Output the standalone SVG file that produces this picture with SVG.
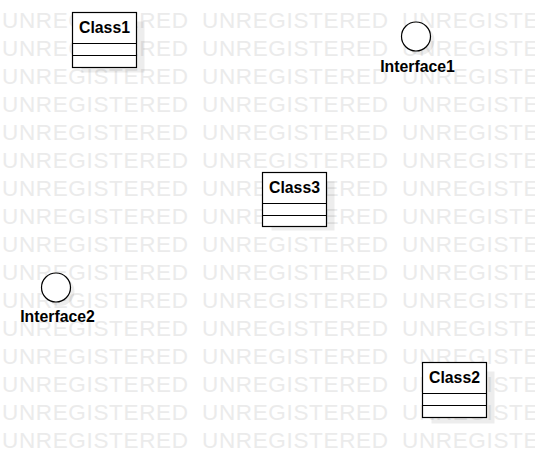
<svg xmlns="http://www.w3.org/2000/svg" width="535" height="467" viewBox="0 0 535 467">
<style>
.wm{font-family:"Liberation Sans",Arial,sans-serif;font-size:22.5px;fill:#ebebeb;}
.box{fill:#ffffff;stroke:#000000;stroke-width:1.2;}
.sep{stroke:#000000;stroke-width:1.2;fill:none;}
.shadow{fill:#000000;fill-opacity:0.07;}
.name{font-family:"Liberation Sans",Arial,sans-serif;font-size:15.8px;font-weight:bold;fill:#000000;text-anchor:middle;}
</style>
<rect x="0" y="0" width="535" height="467" fill="#ffffff"/>
<g id="watermark">
<text class="wm" x="2" y="28.3" textLength="186" lengthAdjust="spacing">UNREGISTERED</text><text class="wm" x="202" y="28.3" textLength="186" lengthAdjust="spacing">UNREGISTERED</text><text class="wm" x="402" y="28.3" textLength="186" lengthAdjust="spacing">UNREGISTERED</text>
<text class="wm" x="2" y="56.3" textLength="186" lengthAdjust="spacing">UNREGISTERED</text><text class="wm" x="202" y="56.3" textLength="186" lengthAdjust="spacing">UNREGISTERED</text><text class="wm" x="402" y="56.3" textLength="186" lengthAdjust="spacing">UNREGISTERED</text>
<text class="wm" x="2" y="84.3" textLength="186" lengthAdjust="spacing">UNREGISTERED</text><text class="wm" x="202" y="84.3" textLength="186" lengthAdjust="spacing">UNREGISTERED</text><text class="wm" x="402" y="84.3" textLength="186" lengthAdjust="spacing">UNREGISTERED</text>
<text class="wm" x="2" y="112.3" textLength="186" lengthAdjust="spacing">UNREGISTERED</text><text class="wm" x="202" y="112.3" textLength="186" lengthAdjust="spacing">UNREGISTERED</text><text class="wm" x="402" y="112.3" textLength="186" lengthAdjust="spacing">UNREGISTERED</text>
<text class="wm" x="2" y="140.3" textLength="186" lengthAdjust="spacing">UNREGISTERED</text><text class="wm" x="202" y="140.3" textLength="186" lengthAdjust="spacing">UNREGISTERED</text><text class="wm" x="402" y="140.3" textLength="186" lengthAdjust="spacing">UNREGISTERED</text>
<text class="wm" x="2" y="168.3" textLength="186" lengthAdjust="spacing">UNREGISTERED</text><text class="wm" x="202" y="168.3" textLength="186" lengthAdjust="spacing">UNREGISTERED</text><text class="wm" x="402" y="168.3" textLength="186" lengthAdjust="spacing">UNREGISTERED</text>
<text class="wm" x="2" y="196.3" textLength="186" lengthAdjust="spacing">UNREGISTERED</text><text class="wm" x="202" y="196.3" textLength="186" lengthAdjust="spacing">UNREGISTERED</text><text class="wm" x="402" y="196.3" textLength="186" lengthAdjust="spacing">UNREGISTERED</text>
<text class="wm" x="2" y="224.3" textLength="186" lengthAdjust="spacing">UNREGISTERED</text><text class="wm" x="202" y="224.3" textLength="186" lengthAdjust="spacing">UNREGISTERED</text><text class="wm" x="402" y="224.3" textLength="186" lengthAdjust="spacing">UNREGISTERED</text>
<text class="wm" x="2" y="252.3" textLength="186" lengthAdjust="spacing">UNREGISTERED</text><text class="wm" x="202" y="252.3" textLength="186" lengthAdjust="spacing">UNREGISTERED</text><text class="wm" x="402" y="252.3" textLength="186" lengthAdjust="spacing">UNREGISTERED</text>
<text class="wm" x="2" y="280.3" textLength="186" lengthAdjust="spacing">UNREGISTERED</text><text class="wm" x="202" y="280.3" textLength="186" lengthAdjust="spacing">UNREGISTERED</text><text class="wm" x="402" y="280.3" textLength="186" lengthAdjust="spacing">UNREGISTERED</text>
<text class="wm" x="2" y="308.3" textLength="186" lengthAdjust="spacing">UNREGISTERED</text><text class="wm" x="202" y="308.3" textLength="186" lengthAdjust="spacing">UNREGISTERED</text><text class="wm" x="402" y="308.3" textLength="186" lengthAdjust="spacing">UNREGISTERED</text>
<text class="wm" x="2" y="336.3" textLength="186" lengthAdjust="spacing">UNREGISTERED</text><text class="wm" x="202" y="336.3" textLength="186" lengthAdjust="spacing">UNREGISTERED</text><text class="wm" x="402" y="336.3" textLength="186" lengthAdjust="spacing">UNREGISTERED</text>
<text class="wm" x="2" y="364.3" textLength="186" lengthAdjust="spacing">UNREGISTERED</text><text class="wm" x="202" y="364.3" textLength="186" lengthAdjust="spacing">UNREGISTERED</text><text class="wm" x="402" y="364.3" textLength="186" lengthAdjust="spacing">UNREGISTERED</text>
<text class="wm" x="2" y="392.3" textLength="186" lengthAdjust="spacing">UNREGISTERED</text><text class="wm" x="202" y="392.3" textLength="186" lengthAdjust="spacing">UNREGISTERED</text><text class="wm" x="402" y="392.3" textLength="186" lengthAdjust="spacing">UNREGISTERED</text>
<text class="wm" x="2" y="420.3" textLength="186" lengthAdjust="spacing">UNREGISTERED</text><text class="wm" x="202" y="420.3" textLength="186" lengthAdjust="spacing">UNREGISTERED</text><text class="wm" x="402" y="420.3" textLength="186" lengthAdjust="spacing">UNREGISTERED</text>
<text class="wm" x="2" y="448.3" textLength="186" lengthAdjust="spacing">UNREGISTERED</text><text class="wm" x="202" y="448.3" textLength="186" lengthAdjust="spacing">UNREGISTERED</text><text class="wm" x="402" y="448.3" textLength="186" lengthAdjust="spacing">UNREGISTERED</text>
</g>
<g id="connectors"></g>
<g id="Class1">
<rect class="shadow" x="81.5" y="21.5" width="63" height="51"/>
<rect class="box" x="72.5" y="12.5" width="64" height="55"/>
<line class="sep" x1="72.5" y1="43.5" x2="136.5" y2="43.5"/>
<line class="sep" x1="72.5" y1="55.5" x2="136.5" y2="55.5"/>
<text class="name" x="104.5" y="33">Class1</text>
</g>
<g id="Class3">
<rect class="shadow" x="271.5" y="181.5" width="63" height="49"/>
<rect class="box" x="262.5" y="172.5" width="64" height="54"/>
<line class="sep" x1="262.5" y1="203.5" x2="326.5" y2="203.5"/>
<line class="sep" x1="262.5" y1="215.5" x2="326.5" y2="215.5"/>
<text class="name" x="294.5" y="193">Class3</text>
</g>
<g id="Class2">
<rect class="shadow" x="431.5" y="371.5" width="63" height="52"/>
<rect class="box" x="422.5" y="362.5" width="64" height="55"/>
<line class="sep" x1="422.5" y1="393.5" x2="486.5" y2="393.5"/>
<line class="sep" x1="422.5" y1="405.5" x2="486.5" y2="405.5"/>
<text class="name" x="454.5" y="383">Class2</text>
</g>
<g id="Interface1">
<circle class="shadow" cx="420" cy="40.5" r="14.5"/>
<circle class="box" cx="416" cy="36.5" r="14.5"/>
<text class="name" x="417.5" y="71.5">Interface1</text>
</g>
<g id="Interface2">
<circle class="shadow" cx="60" cy="291.5" r="14.5"/>
<circle class="box" cx="56" cy="287.5" r="14.5"/>
<text class="name" x="57.5" y="321.5">Interface2</text>
</g>
</svg>
